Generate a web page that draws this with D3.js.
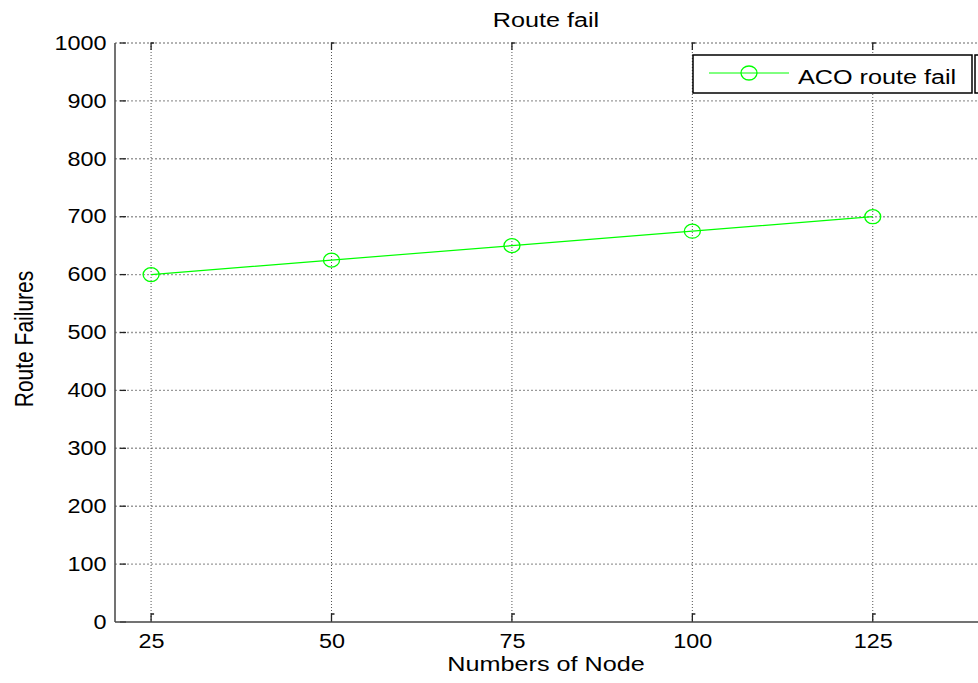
<!DOCTYPE html>
<html>
<head>
<meta charset="utf-8">
<script src="https://cdn.jsdelivr.net/npm/d3@7"></script>
<style>
  html, body { margin: 0; padding: 0; background: #fff; }
  svg { display: block; }
  text { font-family: "Liberation Sans", Arial, sans-serif; fill: #000; }
</style>
</head>
<body>
<svg id="chart" width="978" height="683"></svg>
<script>
// ---- data ----
const nodes = [25, 50, 75, 100, 125];
const routeFail = [600, 625, 650, 675, 700];
const xTicks = [25, 50, 75, 100, 125];
const yTicks = [0, 100, 200, 300, 400, 500, 600, 700, 800, 900, 1000];
const titleText = "Route fail";
const xLabel = "Numbers of Node";
const yLabel = "Route Failures";
const seriesName = "ACO route fail";

(function () {
const W = 978, H = 683;
const pL = 115, pR = 981, pT = 43, pB = 622;
const SX = 1.2; // horizontal stretch of the original figure

const svg = d3.select("#chart");
const x = d3.scaleLinear().domain([20, 140]).range([pL, pR]);
const y = d3.scaleLinear().domain([0, 1000]).range([pB, pT]);

// grid
const grid = svg.append("g");
grid.selectAll("line.h").data(yTicks.filter(d => d > 0)).join("line")
  .attr("x1", pL).attr("x2", pR)
  .attr("y1", d => y(d)).attr("y2", d => y(d))
  .attr("stroke", "#9a9a9a").attr("stroke-width", 1.4).attr("stroke-dasharray", "2,2");
grid.selectAll("line.v").data(xTicks).join("line")
  .attr("x1", d => x(d)).attr("x2", d => x(d))
  .attr("y1", pT).attr("y2", pB)
  .attr("stroke", "#555").attr("stroke-width", 1).attr("stroke-dasharray", "1,2");

// tick marks (inner)
const tk = svg.append("g").attr("stroke", "#222").attr("fill", "none").attr("stroke-width", 1.3);
tk.selectAll("line.yt").data(yTicks).join("line")
  .attr("x1", pL + 5).attr("x2", pL + 11)
  .attr("y1", d => y(d)).attr("y2", d => y(d));
tk.selectAll("path.xb").data(xTicks).join("path")
  .attr("d", d => `M${x(d)},${pB} V${pB - 8} h3`);
tk.selectAll("path.xt").data(xTicks).join("path")
  .attr("d", d => `M${x(d)},${pT + 7} V${pT} h3`);

// axes
const xAxis = d3.axisBottom(x).tickValues(xTicks).tickFormat(d3.format("d")).tickSize(0).tickPadding(12);
const gx = svg.append("g").attr("transform", `translate(0,${pB})`).call(xAxis);
gx.select(".domain").remove();
gx.selectAll("text").attr("font-size", 19.5).attr("font-family", "Liberation Sans, Arial, sans-serif")
  .attr("fill", "#000")
  .attr("transform", `scale(${SX},1)`);

const yAxis = d3.axisLeft(y).tickValues(yTicks).tickFormat(d3.format("d")).tickSize(0).tickPadding(7);
const gy = svg.append("g").attr("transform", `translate(${pL},0)`).call(yAxis);
gy.select(".domain").remove();
gy.selectAll("text").attr("font-size", 19.5).attr("font-family", "Liberation Sans, Arial, sans-serif")
  .attr("fill", "#000")
  .attr("transform", `scale(${SX},1)`);

// axis lines
svg.append("line").attr("x1", pL).attr("x2", pL).attr("y1", pT).attr("y2", pB)
  .attr("stroke", "#444").attr("stroke-width", 1.5);
svg.append("line").attr("x1", pL).attr("x2", W).attr("y1", pB).attr("y2", pB)
  .attr("stroke", "#444").attr("stroke-width", 1.5);

// data line
const pts = nodes.map((n, i) => [n, routeFail[i]]);
svg.append("path").datum(pts)
  .attr("d", d3.line().x(d => x(d[0])).y(d => y(d[1])))
  .attr("fill", "none").attr("stroke", "#00ff00").attr("stroke-width", 1.2);
svg.selectAll("ellipse.m").data(pts).join("ellipse")
  .attr("cx", d => x(d[0])).attr("cy", d => y(d[1]))
  .attr("rx", 8).attr("ry", 7)
  .attr("fill", "none").attr("stroke", "#00ff00").attr("stroke-width", 1.3);

// title & labels
svg.append("text").attr("transform", `translate(546,27) scale(${SX},1)`)
  .attr("text-anchor", "middle").attr("font-size", 21).text(titleText);
svg.append("text").attr("transform", `translate(546,671) scale(${SX},1)`)
  .attr("text-anchor", "middle").attr("font-size", 21).text(xLabel);
svg.append("text").attr("transform", `translate(33,339) scale(${SX},1) rotate(-90)`)
  .attr("text-anchor", "middle").attr("font-size", 21).text(yLabel);

// legend
const lg = svg.append("g");
lg.append("rect").attr("x", 693).attr("y", 55).attr("width", 279).attr("height", 38)
  .attr("fill", "#fff").attr("stroke", "#000").attr("stroke-width", 1.5);
lg.append("path").attr("d", "M978,55 H975 V93 H978").attr("fill", "none")
  .attr("stroke", "#000").attr("stroke-width", 1.5);
lg.append("line").attr("x1", 709).attr("x2", 789).attr("y1", 73).attr("y2", 73)
  .attr("stroke", "#00ff00").attr("stroke-width", 1);
lg.append("ellipse").attr("cx", 749).attr("cy", 73).attr("rx", 8).attr("ry", 7)
  .attr("fill", "none").attr("stroke", "#00ff00").attr("stroke-width", 1.3);
lg.append("text").attr("transform", `translate(798,84) scale(${SX},1)`)
  .attr("font-size", 21).text(seriesName);
})();
</script>
</body>
</html>
